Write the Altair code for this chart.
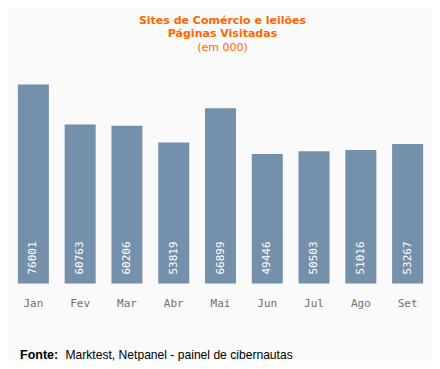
import altair as alt
import pandas as pd

months = ["Jan", "Fev", "Mar", "Abr", "Mai", "Jun", "Jul", "Ago", "Set"]
values = [76001, 60763, 60206, 53819, 66899, 49446, 50503, 51016, 53267]
title_lines = ["Sites de Comércio e leilões", "Páginas Visitadas"]
subtitle = "(em 000)"
source_label = "Fonte:"
source_text = "Marktest, Netpanel - painel de cibernautas"

df = pd.DataFrame({"mes": months, "valor": values})

BG = "#FAFAFA"
BAR = "#7590AB"
ORANGE = "#FF6600"
W, H = 421, 210

x = alt.X("mes:N", sort=months, title=None,
          scale=alt.Scale(paddingInner=0.337, paddingOuter=0.1685),
          axis=alt.Axis(labelAngle=0, ticks=False, domain=False, labelPadding=14,
                        labelFont="DejaVu Sans Mono", labelFontSize=11, labelColor="#707070"))
y = alt.Y("valor:Q", title=None, scale=alt.Scale(domain=[0, 80200], nice=False),
          axis=None)

base = alt.Chart(df)
bars = base.mark_bar(color=BAR).encode(x=x, y=y)
labels = base.mark_text(angle=270, align="left", baseline="middle", color="white",
                        font="DejaVu Sans Mono", fontSize=11).encode(
    x=alt.X("mes:N", sort=months), y=alt.value(H - 9), text="valor:Q")

tdf = pd.DataFrame({"t": title_lines, "yy": [-52.5, -39.5]})
titles = alt.Chart(tdf).mark_text(color=ORANGE, fontWeight="bold", fontSize=11,
                                  font="DejaVu Sans", baseline="middle").encode(
    x=alt.value(W / 2 + 2), y=alt.Y("yy:Q", scale=None), text="t:N")
sub = alt.Chart(pd.DataFrame({"t": [subtitle]})).mark_text(
    color=ORANGE, fontSize=11, font="DejaVu Sans", baseline="middle").encode(
    x=alt.value(W / 2 + 2), y=alt.value(-26), text="t:N")

src1 = alt.Chart(pd.DataFrame({"t": [source_label]})).mark_text(
    color="black", fontWeight="bold", fontSize=12.5, font="Liberation Sans",
    align="left", baseline="middle").encode(x=alt.value(10), y=alt.value(281.5), text="t:N")
src2 = alt.Chart(pd.DataFrame({"t": [source_text]})).mark_text(
    color="black", fontSize=12.1, font="Liberation Sans",
    align="left", baseline="middle").encode(x=alt.value(55.5), y=alt.value(281.5), text="t:N")

chart = alt.layer(bars, labels, titles, sub, src1, src2).properties(
    width=W, height=H, background=BG,
    autosize=alt.AutoSizeParams(type="none"),
    padding={"left": 2, "top": 65.5, "right": 1, "bottom": 77},
).configure_view(stroke=None)

chart.save("out.html", embed_options={"renderer": "svg", "actions": False})
